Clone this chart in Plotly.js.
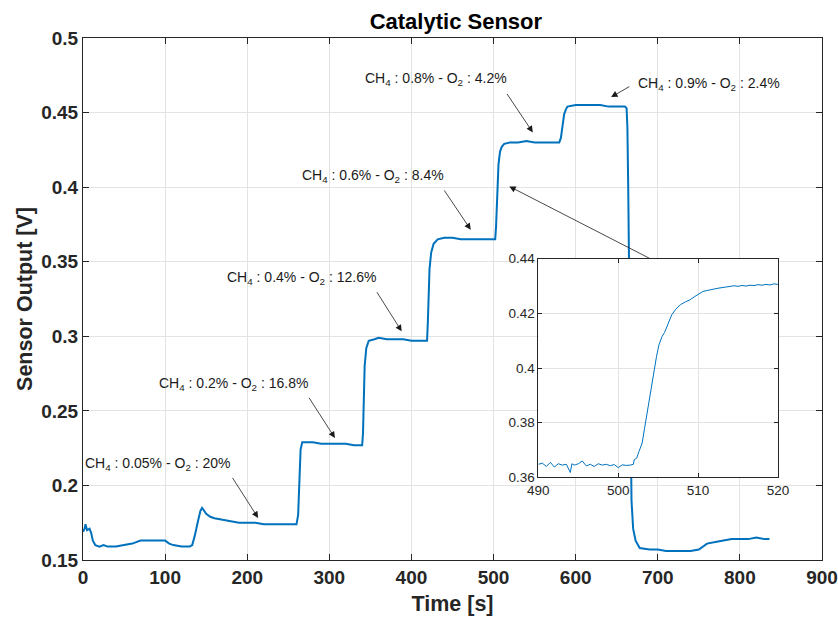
<!DOCTYPE html>
<html>
<head>
<meta charset="utf-8">
<script src="https://cdn.plot.ly/plotly-3.0.1.min.js"></script>
<style>html,body{margin:0;padding:0;background:#fff;}#chart{width:838px;height:619px;}</style>
</head>
<body>
<div id="chart"></div>
<script>
// Main series: time [s] and sensor output [V]
const time_s = [0,2,3,5,8,10,12,15,20,25,30,40,50,60,70,80,90,100,105,110,120,130,133,136,140,143,145,147,150,155,160,170,180,190,200,210,220,230,240,250,260,262,263,264,265,267,270,280,290,300,310,320,330,340,341,342,343,345,348,355,360,370,380,390,400,410,419,420,421,422,424,427,432,440,450,460,470,480,490,500,502,503,504,505,506,507,508,510,513,520,530,540,550,560,570,580,582,584,586,588,590,600,610,620,630,640,650,660,662,663,664,665,666,667,668,670,673,678,690,700,710,720,730,740,750,755,760,770,780,790,800,810,820,830,836];
const output_v = [0.169,0.171,0.174,0.170,0.171,0.168,0.163,0.160,0.159,0.160,0.159,0.159,0.160,0.161,0.163,0.163,0.163,0.163,0.161,0.160,0.159,0.159,0.160,0.166,0.176,0.183,0.185,0.183,0.181,0.179,0.178,0.177,0.176,0.175,0.175,0.175,0.174,0.174,0.174,0.174,0.174,0.180,0.200,0.215,0.224,0.229,0.229,0.229,0.228,0.228,0.228,0.228,0.227,0.227,0.235,0.260,0.280,0.292,0.297,0.298,0.299,0.298,0.298,0.298,0.297,0.297,0.297,0.310,0.330,0.345,0.356,0.362,0.365,0.366,0.366,0.365,0.365,0.365,0.365,0.365,0.365,0.373,0.392,0.406,0.415,0.420,0.424,0.427,0.429,0.430,0.430,0.431,0.430,0.430,0.430,0.430,0.433,0.442,0.449,0.452,0.454,0.455,0.455,0.455,0.455,0.454,0.454,0.454,0.453,0.440,0.400,0.350,0.280,0.215,0.190,0.171,0.163,0.158,0.157,0.157,0.156,0.156,0.156,0.156,0.157,0.159,0.161,0.162,0.163,0.164,0.164,0.164,0.165,0.164,0.164];

// Inset (zoom on the 0.6% -> 0.8% step)
const inset_time = [490,490.5,491,491.5,492,492.5,493,493.5,494,494.2,494.5,495,495.5,496,496.5,497,497.5,498,498.5,499,499.5,500,500.5,501,501.5,501.9,502.0,502.3,502.6,503.0,503.3,503.6,503.9,504.2,504.5,504.8,505.1,505.5,505.8,506.1,506.4,506.7,507.2,507.8,508.4,509.0,509.6,510.1,510.6,511.0,511.5,512.0,512.5,513.0,513.5,514,514.5,515,515.5,516,516.5,517,517.5,518,518.5,519,519.5,520];
const inset_output = [0.3648,0.3652,0.3640,0.3655,0.3638,0.3650,0.3645,0.3648,0.3618,0.3650,0.3645,0.3650,0.3660,0.3642,0.3648,0.3640,0.3650,0.3645,0.3648,0.3643,0.3647,0.3636,0.3646,0.3644,0.3645,0.3648,0.3665,0.3670,0.3695,0.3726,0.3780,0.3835,0.3895,0.3945,0.3990,0.4043,0.4085,0.4116,0.4130,0.4152,0.4180,0.4195,0.4215,0.4232,0.4242,0.4250,0.4262,0.4272,0.4280,0.4283,0.4287,0.4289,0.4292,0.4294,0.4296,0.4297,0.4301,0.4299,0.4302,0.4300,0.4303,0.4302,0.4305,0.4303,0.4306,0.4304,0.4308,0.4306];

// Annotation labels and arrow anchors (data coordinates)
const label_texts = [
  'CH<sub>4</sub> : 0.05% - O<sub>2</sub> : 20%',
  'CH<sub>4</sub> : 0.2% - O<sub>2</sub> : 16.8%',
  'CH<sub>4</sub> : 0.4% - O<sub>2</sub> : 12.6%',
  'CH<sub>4</sub> : 0.6% - O<sub>2</sub> : 8.4%',
  'CH<sub>4</sub> : 0.8% - O<sub>2</sub> : 4.2%',
  'CH<sub>4</sub> : 0.9% - O<sub>2</sub> : 2.4%'
];
const label_x = [0, 89.8, 172.7, 264, 340.6, 673.7];
const label_y = [0.2145, 0.2682, 0.3392, 0.4076, 0.4727, 0.4693];
const arrow_tail_x = [180.9, 274.2, 356.8, 438.8, 515.2, 667.2, 691.6];
const arrow_tail_y = [0.2061, 0.2597, 0.3306, 0.3988, 0.4635, 0.4680, 0.3518];
const arrow_head_x = [213.3, 306.8, 388.1, 472.2, 547.8, 643.2, 519.2];
const arrow_head_y = [0.1782, 0.2318, 0.3033, 0.3715, 0.4367, 0.4604, 0.4005];

const blue = '#0072BD';
const axisCol = '#262626';
const gridCol = '#e3e3e3';
const FONT = 'Liberation Sans, Arial, Helvetica, sans-serif';

const traces = [
  {x: time_s, y: output_v, type: 'scatter', mode: 'lines', line: {color: blue, width: 2}, xaxis: 'x', yaxis: 'y', hoverinfo: 'none'},
  {x: inset_time, y: inset_output, type: 'scatter', mode: 'lines', line: {color: blue, width: 1}, xaxis: 'x2', yaxis: 'y2', hoverinfo: 'none'}
];

const annotations = [];
label_texts.forEach((t, i) => {
  annotations.push({x: label_x[i], y: label_y[i], xref: 'x', yref: 'y', text: t, showarrow: false,
    xanchor: 'left', yanchor: 'middle', font: {family: FONT, size: 14, color: '#1a1a1a'}});
});
arrow_tail_x.forEach((tx, i) => {
  annotations.push({x: arrow_head_x[i], y: arrow_head_y[i], ax: tx, ay: arrow_tail_y[i],
    xref: 'x', yref: 'y', axref: 'x', ayref: 'y', text: '', showarrow: true,
    arrowhead: 2, arrowsize: 1.6, arrowwidth: 0.8, arrowcolor: '#1a1a1a', standoff: 0, startstandoff: 0});
});

const layout = {
  width: 838, height: 619,
  margin: {l: 83, r: 16, t: 38, b: 59},
  paper_bgcolor: '#fff', plot_bgcolor: '#fff',
  showlegend: false,
  font: {family: FONT, color: axisCol},
  title: {text: 'Catalytic Sensor', font: {family: FONT, size: 22, weight: 'bold', color: '#000'}, x: 0.544, xanchor: 'center', y: 0.965, yanchor: 'middle'},
  xaxis: {
    domain: [0, 1], anchor: 'y', range: [0, 900], tickmode: 'linear', tick0: 0, dtick: 100,
    showgrid: true, gridcolor: gridCol, gridwidth: 1, zeroline: false,
    showline: true, linecolor: axisCol, linewidth: 1, mirror: 'ticks',
    ticks: 'inside', ticklen: 6, tickcolor: axisCol, tickwidth: 1,
    tickfont: {family: FONT, size: 19, weight: 'bold', color: axisCol},
    title: {text: 'Time [s]', font: {family: FONT, size: 21.5, weight: 'bold', color: axisCol}, standoff: 9}
  },
  yaxis: {
    domain: [0, 1], anchor: 'x', range: [0.15, 0.5], tickmode: 'linear', tick0: 0.15, dtick: 0.05,
    showgrid: true, gridcolor: gridCol, gridwidth: 1, zeroline: false,
    showline: true, linecolor: axisCol, linewidth: 1, mirror: 'ticks',
    ticks: 'inside', ticklen: 6, tickcolor: axisCol, tickwidth: 1,
    tickfont: {family: FONT, size: 19, weight: 'bold', color: axisCol},
    title: {text: 'Sensor Output [V]', font: {family: FONT, size: 21.5, weight: 'bold', color: axisCol}, standoff: 2}
  },
  xaxis2: {
    domain: [0.6162, 0.9404], anchor: 'y2', range: [490, 520], tickmode: 'linear', tick0: 490, dtick: 10,
    showgrid: true, gridcolor: gridCol, gridwidth: 1, zeroline: false,
    showline: true, linecolor: axisCol, linewidth: 1, mirror: 'ticks',
    ticks: 'inside', ticklen: 4, tickcolor: axisCol,
    tickfont: {family: FONT, size: 13.5, color: axisCol}
  },
  yaxis2: {
    domain: [0.1582, 0.5772], anchor: 'x2', range: [0.36, 0.44], tickmode: 'linear', tick0: 0.36, dtick: 0.02,
    showgrid: true, gridcolor: gridCol, gridwidth: 1, zeroline: false,
    showline: true, linecolor: axisCol, linewidth: 1, mirror: 'ticks',
    ticks: 'inside', ticklen: 4, tickcolor: axisCol,
    tickfont: {family: FONT, size: 13.5, color: axisCol}
  },
  annotations: annotations
};

Plotly.newPlot('chart', traces, layout, {staticPlot: true, displayModeBar: false});
</script>
</body>
</html>
